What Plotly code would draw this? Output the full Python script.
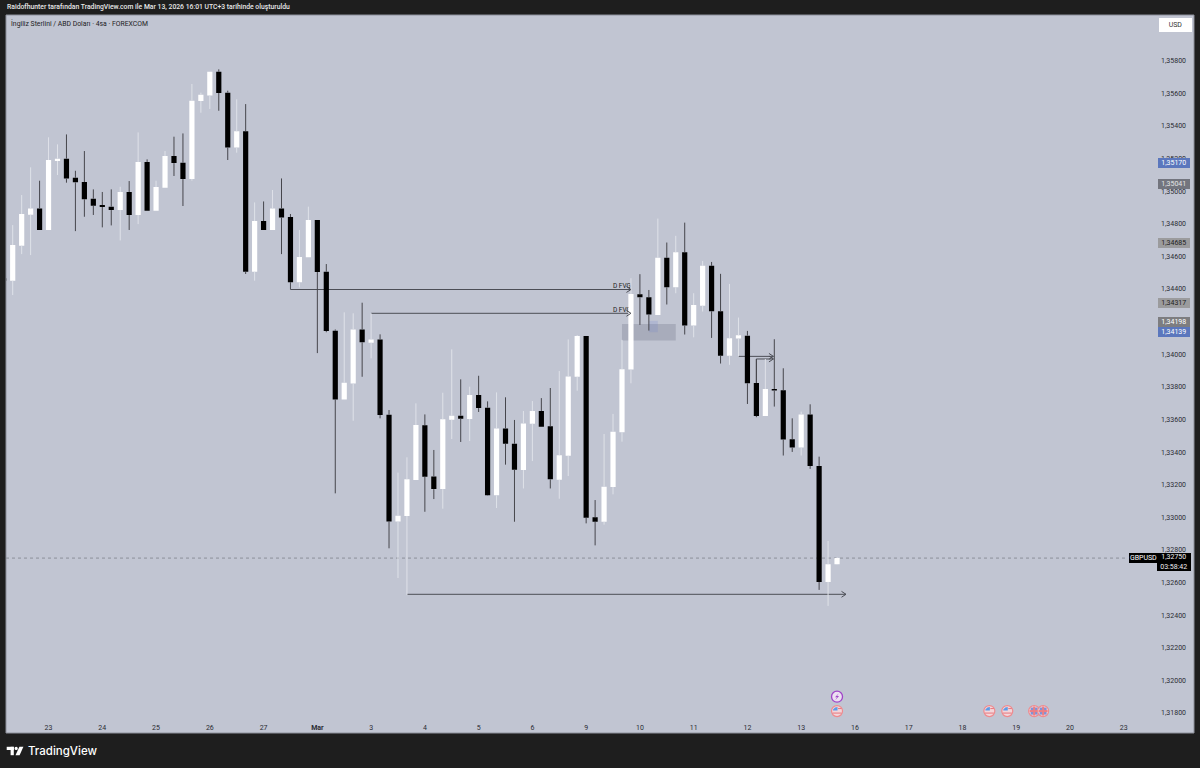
import plotly.graph_objects as go

# ---- data -----------------------------------------------------------------
candle_index = list(range(-1, 93))
opens = [1.34466,1.34451,1.34666,1.34856,1.34894,1.34762,1.35185,1.35199,1.35082,1.35056,1.34954,1.34915,1.34905,1.34884,1.34995,1.34854,1.35179,1.34880,1.35021,1.35215,1.35174,1.35074,1.35553,1.35587,1.35732,1.35604,1.35268,1.35367,1.34506,1.34817,1.34762,1.34894,1.34841,1.34441,1.34594,1.34823,1.34506,1.34144,1.33723,1.33821,1.34152,1.34071,1.34091,1.33629,1.32975,1.33008,1.33229,1.33564,1.33251,1.33173,1.33599,1.33623,1.33603,1.33750,1.33672,1.33135,1.33545,1.33451,1.33290,1.33574,1.33652,1.33558,1.33231,1.33378,1.33862,1.34112,1.33000,1.32973,1.33186,1.33522,1.33906,1.34368,1.34349,1.34241,1.34591,1.34411,1.34625,1.34176,1.34298,1.34542,1.34264,1.33990,1.34096,1.34114,1.33824,1.33622,1.33787,1.33779,1.33479,1.33428,1.33630,1.33315,1.32604,1.32712]
highs = [1.34470,1.34792,1.34976,1.35146,1.35064,1.35330,1.35287,1.35348,1.35125,1.35246,1.35011,1.34995,1.35011,1.35027,1.35062,1.35360,1.35195,1.35064,1.35246,1.35334,1.35354,1.35657,1.35604,1.35732,1.35747,1.35616,1.35563,1.35534,1.34931,1.34937,1.35007,1.35078,1.34860,1.34762,1.34905,1.34823,1.34553,1.34152,1.34257,1.34251,1.34316,1.34251,1.34122,1.33658,1.33274,1.33368,1.33699,1.33631,1.33413,1.33764,1.34030,1.33846,1.33801,1.33868,1.33711,1.33766,1.33736,1.33597,1.33652,1.33713,1.33731,1.33793,1.33897,1.34091,1.34118,1.34112,1.33106,1.33511,1.33634,1.34088,1.34466,1.34491,1.34394,1.34832,1.34685,1.34726,1.34807,1.34374,1.34572,1.34566,1.34493,1.34431,1.34225,1.34143,1.33971,1.33971,1.34092,1.33914,1.33607,1.33648,1.33693,1.33372,1.32855,1.32755]
lows = [1.34445,1.34363,1.34614,1.34608,1.34762,1.34762,1.35099,1.35052,1.34755,1.34843,1.34854,1.34778,1.34790,1.34698,1.34762,1.34798,1.34880,1.34880,1.35021,1.35093,1.34909,1.35064,1.35481,1.35504,1.35493,1.35191,1.35236,1.34492,1.34451,1.34762,1.34762,1.34614,1.34441,1.34410,1.34594,1.34007,1.34135,1.33147,1.33719,1.33592,1.33862,1.33975,1.33607,1.32810,1.32628,1.32523,1.33229,1.33034,1.33112,1.33053,1.33480,1.33462,1.33468,1.33646,1.33133,1.33057,1.33323,1.32973,1.33177,1.33345,1.33556,1.33177,1.33114,1.33253,1.33776,1.32963,1.32828,1.32955,1.33141,1.33464,1.33822,1.34180,1.34145,1.34241,1.34305,1.34374,1.34121,1.34104,1.34262,1.34100,1.33943,1.33935,1.33986,1.33695,1.33614,1.33622,1.33679,1.33379,1.33401,1.33379,1.33297,1.32555,1.32457,1.32710]
closes = [1.34450,1.34670,1.34860,1.34894,1.34762,1.35191,1.35199,1.35078,1.35054,1.34950,1.34911,1.34903,1.34884,1.34995,1.34854,1.35179,1.34880,1.35025,1.35215,1.35172,1.35074,1.35555,1.35591,1.35732,1.35602,1.35268,1.35367,1.34506,1.34817,1.34762,1.34894,1.34839,1.34441,1.34596,1.34823,1.34504,1.34142,1.33723,1.33825,1.34152,1.34073,1.34091,1.33627,1.32975,1.33010,1.33233,1.33566,1.33249,1.33173,1.33601,1.33623,1.33605,1.33750,1.33670,1.33135,1.33545,1.33451,1.33292,1.33576,1.33652,1.33556,1.33233,1.33380,1.33864,1.34112,1.32998,1.32973,1.33188,1.33524,1.33908,1.34370,1.34349,1.34243,1.34591,1.34411,1.34625,1.34176,1.34302,1.34542,1.34264,1.33990,1.34098,1.34116,1.33822,1.33622,1.33787,1.33777,1.33477,1.33428,1.33630,1.33315,1.32604,1.32712,1.32750]

y_tick_values = [1.318,1.320,1.322,1.324,1.326,1.328,1.330,1.332,1.334,1.336,1.338,1.340,1.342,1.344,1.346,1.348,1.350,1.352,1.354,1.356,1.358]
y_tick_labels = ["1,31800","1,32000","1,32200","1,32400","1,32600","1,32800","1,33000","1,33200","1,33400","1,33600","1,33800","1,34000","1,34200","1,34400","1,34600","1,34800","1,35000","1,35200","1,35400","1,35600","1,35800"]
x_tick_values = [4,10,16,22,28,34,40,46,52,58,64,70,76,82,88,94,100,106,112,118,124]
x_tick_labels = ["23","24","25","26","27","<b>Mar</b>","3","4","5","6","9","10","11","12","13","16","17","18","19","20","23"]

# horizontal drawings: (start index, end index, price, drop-to price or None)
ray_starts = [31, 40, 44, 81, 83]
ray_ends = [69, 69, 93, 84.9, 84.9]
ray_prices = [1.34397, 1.34251, 1.32528, 1.33987, 1.33971]
ray_anchor_prices = [1.34441, 1.34251, 1.32528, 1.33987, 1.33824]
fvg_rays = [0, 1]

zones = [(68, 74, 1.34185, 1.34085, "rgba(95,100,120,0.25)"),
         (71, 72, 1.34205, 1.34135, "rgba(110,130,205,0.20)")]

tag_prices = [1.35170, 1.35041, 1.34685, 1.34317, 1.34198, 1.34139]
tag_labels = ["1,35170", "1,35041", "1,34685", "1,34317", "1,34198", "1,34139"]
tag_fills = ["#5b77bd", "#73757e", "#9b9b9d", "#9b9b9d", "#7d7d80", "#5b77bd"]
tag_inks = ["#ffffff", "#e6e6e6", "#222222", "#222222", "#ffffff", "#ffffff"]

event_index = [92, 109, 111, 114, 115]
event_kinds = ["us", "us", "us", "gb", "gb"]
flash_index = [92]
event_price = 1.31812
flash_price = 1.31900

BG = "#c1c5d2"
FRAME = "#1e1e1e"
W, H = 1200, 768
L, R, T, B = 6, 6, 15, 35
X_RANGE = [-0.748, 131.84]
Y_RANGE = [1.316775, 1.360802]


def px(x):
    return (x - L) / (W - L - R)


def py(y):
    return (H - B - y) / (H - T - B)


# ---- bodies and wicks ------------------------------------------------------
wick_up_x, wick_up_y, wick_dn_x, wick_dn_y = [], [], [], []
for i, o, h, l, c in zip(candle_index, opens, highs, lows, closes):
    top, bottom = max(o, c), min(o, c)
    xs, ys = (wick_up_x, wick_up_y) if c >= o else (wick_dn_x, wick_dn_y)
    xs += [i, i, None, i, i, None]
    ys += [h, top, None, bottom, l, None]

fig = go.Figure()
fig.add_trace(go.Candlestick(
    x=candle_index, open=opens, high=highs, low=lows, close=closes,
    increasing=dict(fillcolor="#ffffff", line=dict(color="#ffffff", width=0)),
    decreasing=dict(fillcolor="#000000", line=dict(color="#000000", width=0)),
    hoverinfo="skip", showlegend=False))
fig.add_trace(go.Scatter(x=wick_up_x, y=wick_up_y, mode="lines", hoverinfo="skip", showlegend=False,
                         line=dict(color="#dfe2e9", width=1)))
fig.add_trace(go.Scatter(x=wick_dn_x, y=wick_dn_y, mode="lines", hoverinfo="skip", showlegend=False,
                         line=dict(color="#46464c", width=1)))

shapes = []
INK = "#4c4e56"
# zones
for x0, x1, y0, y1, col in zones:
    shapes.append(dict(type="rect", layer="below", x0=x0, x1=x1, y0=y0, y1=y1, fillcolor=col, line_width=0))
# last price line
shapes.append(dict(type="line", layer="below", xref="paper", x0=0, x1=px(1128), y0=closes[-1], y1=closes[-1],
                   line=dict(color="#6a6c75", width=0.6, dash="dot")))
# rays
for n, (s, e, p, a) in enumerate(zip(ray_starts, ray_ends, ray_prices, ray_anchor_prices)):
    ln = dict(type="line", layer="below", x0=s, x1=e, y0=p, y1=p, line=dict(color=INK, width=1))
    if n in fvg_rays:
        ln["label"] = dict(text="D FVG", textposition="end", xanchor="right", yanchor="bottom", padding=0,
                           font=dict(family="Roboto", size=6.5, color="#222222"))
    shapes.append(ln)
    if a != p:
        shapes.append(dict(type="line", layer="below", x0=s, x1=s, y0=a, y1=p, line=dict(color=INK, width=1)))
    shapes.append(dict(type="line", x0=e - 0.5, x1=e, y0=p + 0.00018, y1=p, line=dict(color=INK, width=1)))
    shapes.append(dict(type="line", x0=e - 0.5, x1=e, y0=p - 0.00018, y1=p, line=dict(color=INK, width=1)))
# frame hairline
shapes.append(dict(type="rect", xref="paper", yref="paper", x0=0, x1=1, y0=0, y1=1,
                   line=dict(color="#8d909b", width=1), fillcolor="rgba(0,0,0,0)"))


def icon(idx, price, **kw):
    return dict(xref="x", yref="y", xanchor=idx, yanchor=price, xsizemode="pixel", ysizemode="pixel", **kw)


for idx, kind in zip(event_index, event_kinds):
    shapes.append(icon(idx, event_price, type="circle", x0=-5.5, x1=5.5, y0=-5.5, y1=5.5,
                       fillcolor="#f3d6da", line=dict(color="#ee8a8e", width=1.2)))
    if kind == "us":
        shapes.append(icon(idx, event_price, type="path", path="M -4 0.5 L 0.5 0.5 L 0.5 4 L -2 3.6 L -4 1.5 Z",
                           fillcolor="#5d9be6", line_width=0))
        shapes.append(icon(idx, event_price, type="rect", x0=1, x1=4.5, y0=2, y1=3, fillcolor="#e8767c", line_width=0))
        shapes.append(icon(idx, event_price, type="rect", x0=-4.5, x1=4.5, y0=-2.5, y1=-1.5, fillcolor="#e8767c", line_width=0))
    else:
        shapes.append(icon(idx, event_price, type="rect", x0=-3.5, x1=3.5, y0=-3.5, y1=3.5, fillcolor="#7f93d6", line_width=0))
        shapes.append(icon(idx, event_price, type="rect", x0=-4.5, x1=4.5, y0=-1, y1=1, fillcolor="#ec7e84", line_width=0))
        shapes.append(icon(idx, event_price, type="rect", x0=-1, x1=1, y0=-4.5, y1=4.5, fillcolor="#ec7e84", line_width=0))
for idx in flash_index:
    shapes.append(icon(idx, flash_price, type="circle", x0=-5.5, x1=5.5, y0=-5.5, y1=5.5,
                       fillcolor="#ecdff2", line=dict(color="#a045c8", width=1.3)))
    shapes.append(icon(idx, flash_price, type="path", path="M 1.8 3.5 L -2 -0.5 L 0 -0.5 L -1.8 -3.5 L 2 0.8 L 0 0.8 Z",
                       fillcolor="#a045c8", line_width=0))

# TradingView logo
def rect_px(x0, y0, x1, y1, col):
    return dict(type="rect", xref="paper", yref="paper", x0=px(x0), x1=px(x1), y0=py(y0), y1=py(y1), fillcolor=col, line_width=0)


shapes.append(rect_px(6.7, 746.8, 13.8, 750, "#ffffff"))
shapes.append(rect_px(10.6, 746.8, 13.8, 755.2, "#ffffff"))
shapes.append(dict(type="circle", xref="paper", yref="paper", x0=px(14.5), x1=px(17.8), y0=py(750.1), y1=py(746.8), fillcolor="#ffffff", line_width=0))
shapes.append(dict(type="path", xref="paper", yref="paper",
                   path=f"M {px(19.4)} {py(746.8)} L {px(23.4)} {py(746.8)} L {px(19.6)} {py(755.2)} L {px(15.5)} {py(755.2)} Z",
                   fillcolor="#ffffff", line_width=0))

annotations = []


def text_px(x, y, text, size, color, anchor="left", **kw):
    annotations.append(dict(xref="paper", yref="paper", x=px(x), y=py(y), text=text, showarrow=False,
                            xanchor=anchor, yanchor="middle", font=dict(family="Roboto", size=size, color=color, **kw)))


text_px(4.5, 7, "Raidofhunter tarafından TradingView.com ile Mar 13, 2026 16:01 UTC+3 tarihinde oluşturuldu", 6.8, "#e8e8e8", weight=500)
text_px(8.5, 23.3, "İngiliz Sterlini / ABD Doları · 4sa · FOREXCOM", 6.85, "#1c1c22")
annotations.append(dict(xref="paper", yref="paper", x=px(25.8), y=py(751), text="TradingView", showarrow=False,
                        xanchor="left", yanchor="middle", font=dict(family="Inter", size=11.5, color="#ffffff", weight=500)))

CENTER = px(1173.5)
for p, lab, fill, ink in zip(tag_prices, tag_labels, tag_fills, tag_inks):
    annotations.append(dict(xref="paper", yref="y", x=CENTER, y=p, text=lab, showarrow=False, width=31.5, height=9.6,
                            bgcolor=fill, borderpad=0, borderwidth=0, xanchor="center", yanchor="middle",
                            font=dict(family="Roboto", size=7, color=ink)))
annotations.append(dict(xref="paper", yref="y", x=px(1174.2), y=closes[-1], yshift=-4, text="1,32750<br>03:58:42", showarrow=False,
                        width=33.5, height=18, bgcolor="#000000", borderpad=0, borderwidth=0, xanchor="center", yanchor="middle",
                        font=dict(family="Roboto", size=7, color="#f0f0f0")))
annotations.append(dict(xref="paper", yref="y", x=px(1143), y=closes[-1], yshift=0, text="GBPUSD", showarrow=False,
                        width=29, height=10, bgcolor="#000000", borderpad=0, borderwidth=0, xanchor="center", yanchor="middle",
                        font=dict(family="Roboto", size=7, color="#ffffff")))
annotations.append(dict(xref="paper", yref="paper", x=px(1175.5), y=py(25), text="USD", showarrow=False,
                        width=33, height=14, bgcolor="#ffffff", borderpad=0, borderwidth=0, xanchor="center", yanchor="middle",
                        font=dict(family="Roboto", size=7, color="#333333")))

fig.update_layout(
    width=W, height=H, autosize=False,
    margin=dict(l=L, r=R, t=T, b=B, pad=0),
    paper_bgcolor=FRAME, plot_bgcolor=BG,
    showlegend=False, hovermode=False, dragmode=False,
    boxgap=0.42, boxgroupgap=0,
    shapes=shapes, annotations=annotations,
    xaxis=dict(range=X_RANGE, tickmode="array", tickvals=x_tick_values, ticktext=x_tick_labels,
               ticks="", showgrid=False, zeroline=False, showline=False, rangeslider=dict(visible=False),
               ticklabelposition="inside", ticklabelstandoff=-1,
               tickangle=0, tickfont=dict(family="Roboto", size=7, color="#2a2c33")),
    yaxis=dict(range=Y_RANGE, side="right", tickmode="array", tickvals=y_tick_values, ticktext=y_tick_labels,
               ticks="", showgrid=False, zeroline=False, showline=False,
               ticklabelposition="inside", ticklabelstandoff=5,
               tickfont=dict(family="Roboto", size=7, color="#2a2c33")),
)

fig.write_html("out.html", config=dict(displayModeBar=False),
               post_script="document.body.style.margin='0';document.documentElement.style.overflow='hidden';")
